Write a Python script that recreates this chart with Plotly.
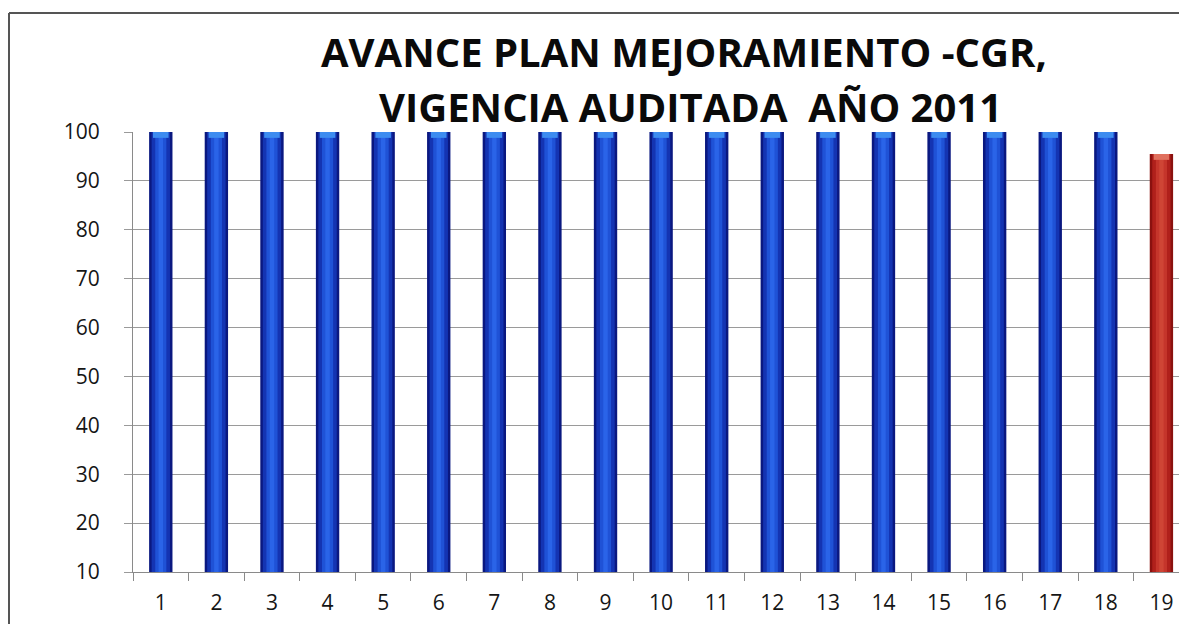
import plotly.graph_objects as go

categories = [str(i) for i in range(1, 20)]
avance = [100, 100, 100, 100, 100, 100, 100, 100, 100, 100,
          100, 100, 100, 100, 100, 100, 100, 100, 95.5]
y_ticks = [10, 20, 30, 40, 50, 60, 70, 80, 90, 100]
title_line1 = "AVANCE PLAN MEJORAMIENTO -CGR,"
title_line2 = "VIGENCIA AUDITADA  AÑO 2011"

# page has an 8px body margin; work in screen pixels and convert
OFF = 8
W, H = 1187 - OFF, 624 - OFF
L = 133 - OFF
T = 132 - OFF
B = (624 - 572)
R = 0
ph = H - T - B
pw = W - L - R

def py(sy):
    return 1 + (T - (sy - OFF)) / ph

def px_(sx):
    return ((sx - OFF) - L) / pw

BASE = 10
CAP = 1.2  # height (in data units) of the lighter bevel at the bar tops

# colour layers (outer dark edge -> inner highlight), last bar red
layers = [
    (0.42, ["#0a1880"] * 18 + ["#8a110f"]),
    (0.33, ["#1434b2"] * 18 + ["#b0201b"]),
    (0.20, ["#1f52d6"] * 18 + ["#c5352b"]),
    (0.08, ["#2a64e8"] * 18 + ["#cf4535"]),
]
cap_colors = ["#3d8cf0"] * 18 + ["#e0705e"]

fig = go.Figure()
for w, cols in layers:
    fig.add_trace(go.Bar(
        x=categories, y=[v - BASE for v in avance], base=BASE,
        width=w, marker=dict(color=cols, line=dict(width=0)),
        hoverinfo="skip", showlegend=False,
    ))
fig.add_trace(go.Bar(
    x=categories, y=[CAP] * len(avance), base=[v - CAP for v in avance],
    width=0.28, marker=dict(color=cap_colors, line=dict(width=0)),
    hoverinfo="skip", showlegend=False,
))

font_main = "Open Sans, Lato, Arial, sans-serif"

fig.update_layout(
    width=W, height=H,
    margin=dict(l=L, r=R, t=T, b=B, pad=0),
    paper_bgcolor="white", plot_bgcolor="white",
    barmode="overlay",
    showlegend=False,
    xaxis=dict(
        type="category", range=[-0.5, 18.46],
        showgrid=False, tickson="boundaries", ticks="outside",
        ticklen=8, tickcolor="#8a8a8a", tickwidth=1,
        showline=True, linecolor="#8a8a8a", linewidth=1,
        tickfont=dict(family=font_main, size=21, color="#151515"),
        ticklabelstandoff=12,
    ),
    yaxis=dict(
        range=[10, 100], tickvals=y_ticks,
        showgrid=True, gridcolor="#9a9a9a", gridwidth=1,
        ticks="outside", ticklen=8, tickcolor="#9a9a9a",
        showline=True, linecolor="#8a8a8a", linewidth=1,
        zeroline=False,
        tickfont=dict(family=font_main, size=21, color="#151515"),
        ticklabelstandoff=20,
    ),
    annotations=[
        dict(text="<b>%s</b>" % title_line1, xref="paper", yref="paper",
             x=px_(684), y=py(52), xanchor="center", yanchor="middle",
             showarrow=False,
             font=dict(family=font_main, size=40, color="#0a0a0a")),
        dict(text="<b>%s</b>" % title_line2, xref="paper", yref="paper",
             x=px_(690), y=py(106), xanchor="center", yanchor="middle",
             showarrow=False,
             font=dict(family=font_main, size=40, color="#0a0a0a")),
    ],
    shapes=[
        dict(type="line", xref="paper", yref="paper",
             x0=px_(9), x1=px_(9), y0=py(13), y1=py(640),
             line=dict(color="#555555", width=2)),
        dict(type="line", xref="paper", yref="paper",
             x0=px_(9), x1=px_(1200), y0=py(13), y1=py(13),
             line=dict(color="#555555", width=2)),
    ],
)

fig.write_html("out.html")
